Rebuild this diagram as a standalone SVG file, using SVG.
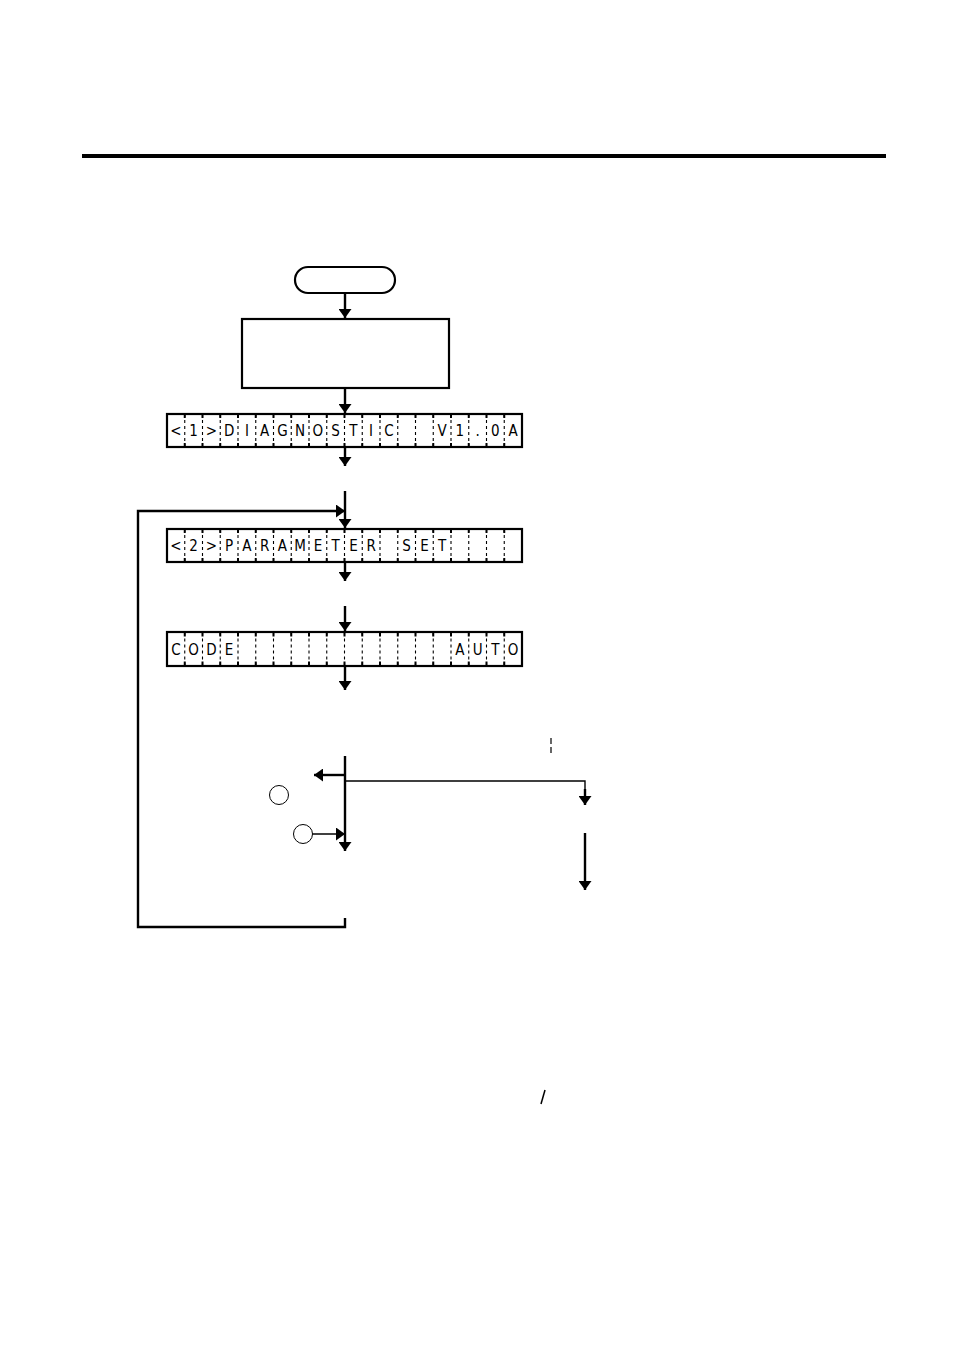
<svg xmlns="http://www.w3.org/2000/svg" width="954" height="1349" viewBox="0 0 954 1349">
<style>
.ln{stroke:#000;stroke-width:2.4;fill:none}
.thin{stroke:#000;stroke-width:1.4;fill:none}
.box{stroke:#000;stroke-width:2.2;fill:#fff}
.div{stroke:#000;stroke-width:1.1;stroke-dasharray:3 3;fill:none}
.tick{stroke:#000;stroke-width:2;stroke-dasharray:4 25 5 100;fill:none}
.ch{font-family:"DejaVu Sans Condensed","Liberation Sans",Arial,sans-serif;font-size:15px;font-weight:300;text-anchor:middle;fill:#000}
</style>
<defs>
<marker id="ah" viewBox="0 0 9 13" refX="9" refY="6.5" markerWidth="9" markerHeight="13" markerUnits="userSpaceOnUse" orient="auto">
<path d="M0,0 L9,6.5 L0,13 Z" fill="#000"/>
</marker>
<path id="dv" d="M184.75,0V33M202.5,0V33M220.25,0V33M238,0V33M255.75,0V33M273.5,0V33M291.25,0V33M309,0V33M326.75,0V33M344.5,0V33M362.25,0V33M380,0V33M397.75,0V33M415.5,0V33M433.25,0V33M451,0V33M468.75,0V33M486.5,0V33M504.25,0V33"/>
</defs>
<rect x="82" y="154" width="804" height="4" fill="#000"/>

<g id="start"><rect x="295" y="267" width="100" height="26" rx="13" class="box"/></g>
<g id="process"><rect x="242" y="319" width="207" height="69" class="box"/></g>

<g id="lcd1">
<rect x="167" y="414" width="355" height="33" class="box"/>
<use href="#dv" y="414" class="div"/>
<use href="#dv" y="414" class="tick"/>
<g class="ch">
<text x="175.9" y="436">&lt;</text><text x="193.6" y="436">1</text><text x="211.4" y="436">&gt;</text><text x="229.1" y="436">D</text><text x="246.9" y="436">I</text><text x="264.6" y="436">A</text><text x="282.4" y="436">G</text><text x="300.1" y="436">N</text><text x="317.9" y="436">O</text><text x="335.6" y="436">S</text><text x="353.4" y="436">T</text><text x="371.1" y="436">I</text><text x="388.9" y="436">C</text><text x="442.1" y="436">V</text><text x="459.9" y="436">1</text><text x="477.6" y="436">.</text><text x="495.4" y="436">0</text><text x="513.1" y="436">A</text>
</g>
</g>

<g id="lcd2">
<rect x="167" y="529" width="355" height="33" class="box"/>
<use href="#dv" y="529" class="div"/>
<use href="#dv" y="529" class="tick"/>
<g class="ch">
<text x="175.9" y="551">&lt;</text><text x="193.6" y="551">2</text><text x="211.4" y="551">&gt;</text><text x="229.1" y="551">P</text><text x="246.9" y="551">A</text><text x="264.6" y="551">R</text><text x="282.4" y="551">A</text><text x="300.1" y="551">M</text><text x="317.9" y="551">E</text><text x="335.6" y="551">T</text><text x="353.4" y="551">E</text><text x="371.1" y="551">R</text><text x="406.6" y="551">S</text><text x="424.4" y="551">E</text><text x="442.1" y="551">T</text>
</g>
</g>

<g id="lcd3">
<rect x="167" y="632" width="355" height="34" class="box"/>
<use href="#dv" y="632.5" class="div"/>
<use href="#dv" y="632.5" class="tick"/>
<g class="ch">
<text x="175.9" y="655">C</text><text x="193.6" y="655">O</text><text x="211.4" y="655">D</text><text x="229.1" y="655">E</text><text x="459.9" y="655">A</text><text x="477.6" y="655">U</text><text x="495.4" y="655">T</text><text x="513.1" y="655">O</text>
</g>
</g>

<g id="circle1"><circle cx="279" cy="795" r="9.5" fill="#fff" stroke="#000" stroke-width="1"/></g>
<g id="circle2"><circle cx="303" cy="834" r="9.5" fill="#fff" stroke="#000" stroke-width="1"/></g>

<g id="connectors">
<path class="ln" d="M345,293V318" marker-end="url(#ah)"/>
<path class="ln" d="M345,388V413" marker-end="url(#ah)"/>
<path class="ln" d="M345,447V466" marker-end="url(#ah)"/>
<path class="ln" d="M345,491V528" marker-end="url(#ah)"/>
<path class="ln" d="M345,918V927H138V511H345" marker-end="url(#ah)"/>
<path class="ln" d="M345,562V581" marker-end="url(#ah)"/>
<path class="ln" d="M345,606V631" marker-end="url(#ah)"/>
<path class="ln" d="M345,666V690" marker-end="url(#ah)"/>
<path class="ln" d="M345,756V851" marker-end="url(#ah)"/>
<path class="ln" d="M345,775H314" marker-end="url(#ah)"/>
<path class="thin" d="M345,781H585V790"/>
<path class="ln" d="M585,789V805" marker-end="url(#ah)"/>
<path class="thin" d="M312.5,834H345" marker-end="url(#ah)"/>
<path class="ln" d="M585,833V890" marker-end="url(#ah)"/>
</g>

<path d="M551,738V744M551,747V753" stroke="#000" stroke-width="1.2"/>
<path d="M545,1090L541,1104" stroke="#000" stroke-width="1.5"/>
</svg>
